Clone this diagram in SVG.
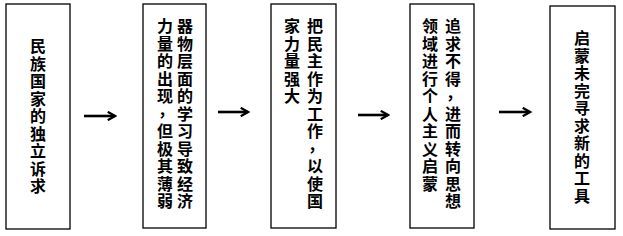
<svg xmlns="http://www.w3.org/2000/svg" width="623" height="236" viewBox="0 0 623 236">
<defs>
<style>
.box{fill:#fff;stroke:#000;stroke-width:1.3}
.t{font-family:"Noto Sans CJK SC","Noto Sans",sans-serif;font-size:16px;font-weight:bold;fill:#000;text-anchor:middle}
.ar{stroke:#000;stroke-width:2.6;fill:none}
</style>
<marker id="ah" viewBox="0 0 10 10" refX="8" refY="5" markerWidth="4" markerHeight="4" orient="auto" markerUnits="strokeWidth">
<path d="M1,1 L8,5 L1,9" fill="none" stroke="#000" stroke-width="2.2"/>
</marker>
</defs>
<rect width="623" height="236" fill="#fff"/>
<g id="n1">
<rect class="box" x="6" y="4" width="64" height="225"/>
<text class="t" y="52"><tspan x="38">民</tspan><tspan x="38" dy="17.5">族</tspan><tspan x="38" dy="17.5">国</tspan><tspan x="38" dy="17.5">家</tspan><tspan x="38" dy="17.5">的</tspan><tspan x="38" dy="17.5">独</tspan><tspan x="38" dy="17.5">立</tspan><tspan x="38" dy="17.5">诉</tspan><tspan x="38" dy="17.5">求</tspan></text>
</g>
<g id="n2">
<rect class="box" x="143" y="4" width="63" height="224"/>
<text class="t" y="32"><tspan x="185">器</tspan><tspan x="185" dy="17.5">物</tspan><tspan x="185" dy="17.5">层</tspan><tspan x="185" dy="17.5">面</tspan><tspan x="185" dy="17.5">的</tspan><tspan x="185" dy="17.5">学</tspan><tspan x="185" dy="17.5">习</tspan><tspan x="185" dy="17.5">导</tspan><tspan x="185" dy="17.5">致</tspan><tspan x="185" dy="17.5">经</tspan><tspan x="185" dy="17.5">济</tspan></text>
<text class="t" y="32"><tspan x="165">力</tspan><tspan x="165" dy="17.5">量</tspan><tspan x="165" dy="17.5">的</tspan><tspan x="165" dy="17.5">出</tspan><tspan x="165" dy="17.5">现</tspan><tspan x="166" dy="14">，</tspan><tspan x="165" dy="21">但</tspan><tspan x="165" dy="17.5">极</tspan><tspan x="165" dy="17.5">其</tspan><tspan x="165" dy="17.5">薄</tspan><tspan x="165" dy="17.5">弱</tspan></text>
</g>
<g id="n3">
<rect class="box" x="271" y="4" width="65" height="224"/>
<text class="t" y="32"><tspan x="315">把</tspan><tspan x="315" dy="17.5">民</tspan><tspan x="315" dy="17.5">主</tspan><tspan x="315" dy="17.5">作</tspan><tspan x="315" dy="17.5">为</tspan><tspan x="315" dy="17.5">工</tspan><tspan x="315" dy="17.5">作</tspan><tspan x="316" dy="14">，</tspan><tspan x="315" dy="21">以</tspan><tspan x="315" dy="17.5">使</tspan><tspan x="315" dy="17.5">国</tspan></text>
<text class="t" y="32"><tspan x="292">家</tspan><tspan x="292" dy="17.5">力</tspan><tspan x="292" dy="17.5">量</tspan><tspan x="292" dy="17.5">强</tspan><tspan x="292" dy="17.5">大</tspan></text>
</g>
<g id="n4">
<rect class="box" x="410" y="4" width="64" height="224"/>
<text class="t" y="32"><tspan x="453">追</tspan><tspan x="453" dy="17.5">求</tspan><tspan x="453" dy="17.5">不</tspan><tspan x="453" dy="17.5">得</tspan><tspan x="454" dy="14">，</tspan><tspan x="453" dy="21">进</tspan><tspan x="453" dy="17.5">而</tspan><tspan x="453" dy="17.5">转</tspan><tspan x="453" dy="17.5">向</tspan><tspan x="453" dy="17.5">思</tspan><tspan x="453" dy="17.5">想</tspan></text>
<text class="t" y="32"><tspan x="430">领</tspan><tspan x="430" dy="17.5">域</tspan><tspan x="430" dy="17.5">进</tspan><tspan x="430" dy="17.5">行</tspan><tspan x="430" dy="17.5">个</tspan><tspan x="430" dy="17.5">人</tspan><tspan x="430" dy="17.5">主</tspan><tspan x="430" dy="17.5">义</tspan><tspan x="430" dy="17.5">启</tspan><tspan x="430" dy="17.5">蒙</tspan></text>
</g>
<g id="n5">
<rect class="box" x="550" y="6" width="65" height="223"/>
<text class="t" y="44"><tspan x="582">启</tspan><tspan x="582" dy="17.5">蒙</tspan><tspan x="582" dy="17.5">未</tspan><tspan x="582" dy="17.5">完</tspan><tspan x="582" dy="17.5">寻</tspan><tspan x="582" dy="17.5">求</tspan><tspan x="582" dy="17.5">新</tspan><tspan x="582" dy="17.5">的</tspan><tspan x="582" dy="17.5">工</tspan><tspan x="582" dy="17.5">具</tspan></text>
</g>
<g id="connectors">
<line class="ar" x1="84" y1="116" x2="115" y2="116" marker-end="url(#ah)"/>
<line class="ar" x1="218" y1="112" x2="248" y2="112" marker-end="url(#ah)"/>
<line class="ar" x1="358" y1="115" x2="388" y2="115" marker-end="url(#ah)"/>
<line class="ar" x1="499" y1="112" x2="530" y2="112" marker-end="url(#ah)"/>
</g>
</svg>
